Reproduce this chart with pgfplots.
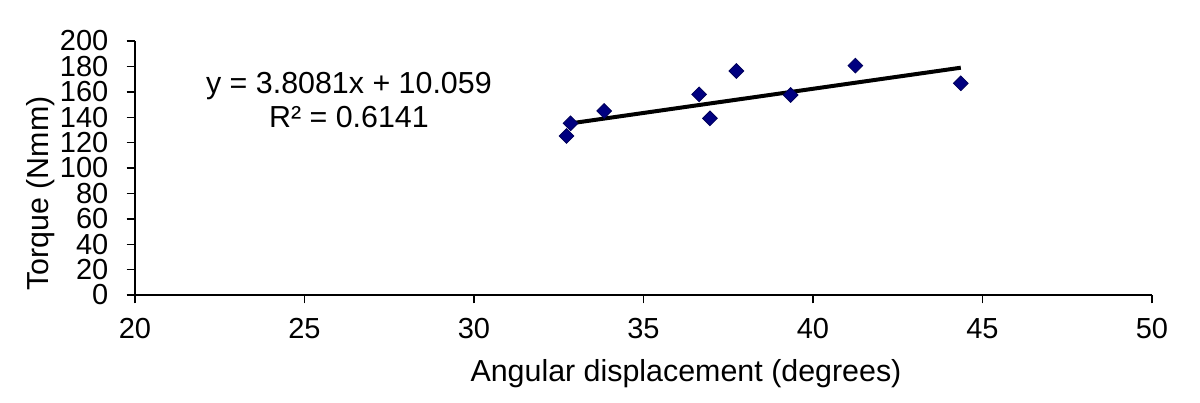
\documentclass[border=0pt]{standalone}
\usepackage{pgfplots}
\pgfplotsset{compat=1.18}
\usepackage{fontspec}
\setmainfont{Liberation Sans}
\definecolor{navy}{HTML}{000080}

\begin{document}
\begin{tikzpicture}
\useasboundingbox (-67.5pt,-53.5pt) rectangle (532.5pt,147.5pt);
\begin{axis}[
  scale only axis, width=508.5pt, height=127pt,
  xmin=20, xmax=50, ymin=0, ymax=200,
  xtick={20,25,...,50}, ytick={0,20,...,200},
  axis x line=bottom, axis y line=left,
  axis line style={-, black, line width=0.7pt},
  tick style={black, line width=0.7pt},
  tick align=outside, major tick length=4.2pt,
  /pgf/number format/assume math mode=true,
  ticklabel style={font=\fontsize{14.5}{15}\selectfont},
  xticklabel style={yshift=-4pt},
  yticklabel style={inner ysep=0pt, xshift=-5.6pt},
  xlabel={Angular displacement (degrees)},
  ylabel={Torque (Nmm)},
  label style={font=\fontsize{15.2}{16}\selectfont},
  xlabel style={at={(axis description cs:0.5418,-0.3413)}, anchor=base},
  ylabel style={at={(axis description cs:-0.0855,0.40)}, anchor=base},
  clip=false,
]
\addplot[only marks, mark=square*, mark size=2.6pt, color=navy,
  mark options={rotate=45, fill=navy, draw=navy!70!black}]
  coordinates {
  (32.73,125.2) (32.85,135.2) (33.84,144.9) (36.64,158.0) (36.96,139.1)
  (37.74,176.4) (39.34,157.5) (41.25,180.6) (44.36,166.7)
};
\addplot[black, line width=2pt, no marks]
  coordinates {(32.80,134.96) (44.36,178.98)};
\node[font=\fontsize{15.2}{16}\selectfont, anchor=base] at (axis cs:26.31,159)
  {y = 3.8081x + 10.059};
\node[font=\fontsize{15.2}{16}\selectfont, anchor=base] at (axis cs:26.31,131.5)
  {R² = 0.6141};
\end{axis}
\end{tikzpicture}
\end{document}
